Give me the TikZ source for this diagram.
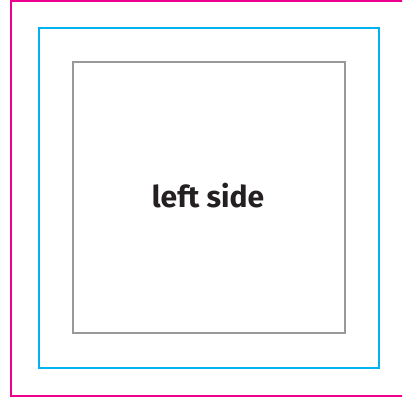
\documentclass[tikz,border=0pt]{standalone}
\usepackage{fontspec}
\setmainfont{Fira Sans}
\usetikzlibrary{positioning}
\definecolor{trimpink}{rgb}{.925,.0,.55}
\definecolor{bleedblue}{rgb}{.0,.70,.93}
\definecolor{safegray}{rgb}{.60,.60,.60}
\definecolor{inkdark}{rgb}{.14,.12,.13}

\begin{document}
\begin{tikzpicture}[x=1pt, y=-1pt, line width=2pt]
	  \useasboundingbox (0,0) rectangle (402,406);
	  \clip (0,0) rectangle (402,406);
	  \draw[trimpink] (11,1.5) rectangle (420,395.5);
	  \draw[bleedblue] (38.5,28.5) rectangle (378.5,368);
	  \draw[safegray] (72.5,62.5) rectangle (344.5,333);
	  \node[font=\bfseries\fontsize{30}{30}\selectfont, text=inkdark] (label) at (208,196) {left side};
	\end{tikzpicture}
\end{document}
